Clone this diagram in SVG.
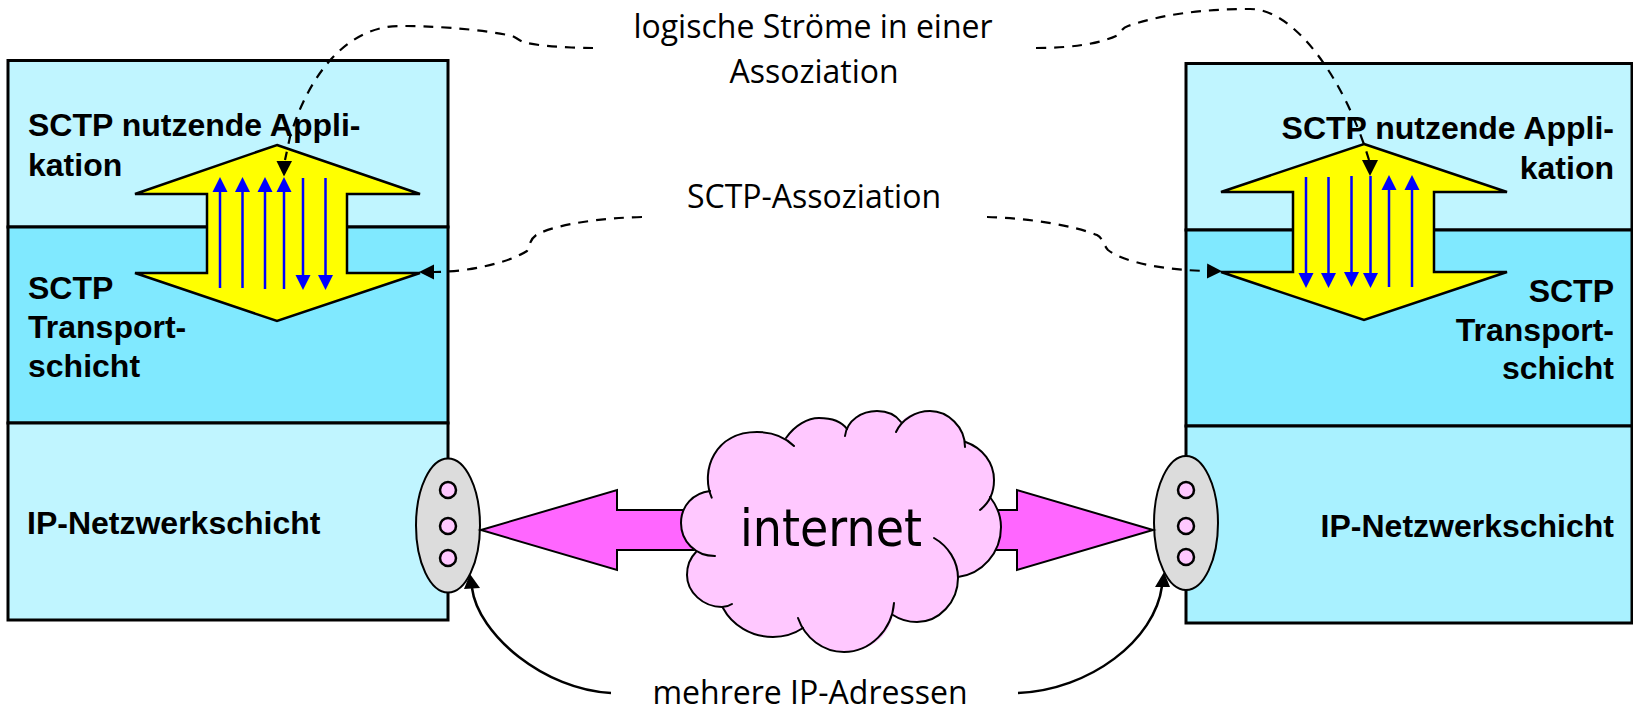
<svg xmlns="http://www.w3.org/2000/svg" width="1633" height="707" viewBox="0 0 1633 707">
<style>
.box{stroke:#000;stroke-width:3}
.lab{font-family:"Liberation Sans",Arial,sans-serif;font-weight:bold;font-size:32px;fill:#000}
.note{font-family:"Open Sans","Noto Sans",sans-serif;font-size:32px;fill:#000;text-anchor:middle}
.end{text-anchor:end}
.ya{fill:#ff0;stroke:#000;stroke-width:2.5;stroke-linejoin:miter}
.bl{stroke:#00f;stroke-width:2.5;fill:none;marker-end:url(#bh)}
.pa{fill:#f6f;stroke:#000;stroke-width:2}
.el{fill:#dcdcdc;stroke:#000;stroke-width:2}
.dot{fill:#ffc8ff;stroke:#000;stroke-width:2.5}
.cl{fill:none;stroke:#000;stroke-width:2;stroke-linecap:round}
.da{fill:none;stroke:#000;stroke-width:2.2;stroke-dasharray:10 8}
.ah{marker-end:url(#kh)}
.so{fill:none;stroke:#000;stroke-width:2.5}
</style>
<defs>
<marker id="bh" markerUnits="userSpaceOnUse" markerWidth="16" markerHeight="16" refX="0" refY="8" orient="auto"><path d="M0 0.5L15 8L0 15.5Z" fill="#00f"/></marker>
<marker id="kh" markerUnits="userSpaceOnUse" markerWidth="16" markerHeight="16" refX="0" refY="8" orient="auto"><path d="M0 0.5L15 8L0 15.5Z" fill="#000"/></marker>
</defs>
<rect width="1633" height="707" fill="#fff"/>

<g id="left-stack">
<rect class="box" x="8" y="60.500" width="440" height="166.500" fill="#c0f5ff"/>
<rect class="box" x="8" y="227" width="440" height="196" fill="#80e9ff"/>
<rect class="box" x="8" y="423" width="440" height="197" fill="#c0f5ff"/>
<text class="lab" x="28" y="136">SCTP nutzende Appli-</text>
<text class="lab" x="28" y="176">kation</text>
<text class="lab" x="28" y="299">SCTP</text>
<text class="lab" x="28" y="338">Transport-</text>
<text class="lab" x="28" y="377">schicht</text>
<text class="lab" x="27" y="534">IP-Netzwerkschicht</text>
</g>

<g id="right-stack">
<rect class="box" x="1186" y="63.500" width="446" height="166.500" fill="#c0f5ff"/>
<rect class="box" x="1186" y="230" width="446" height="196" fill="#80e9ff"/>
<rect class="box" x="1186" y="426" width="446" height="197" fill="#a9f1ff"/>
<text class="lab end" x="1614" y="139">SCTP nutzende Appli-</text>
<text class="lab end" x="1614" y="179">kation</text>
<text class="lab end" x="1614" y="302">SCTP</text>
<text class="lab end" x="1614" y="341">Transport-</text>
<text class="lab end" x="1614" y="379">schicht</text>
<text class="lab end" x="1614" y="537">IP-Netzwerkschicht</text>
</g>

<g id="left-association">
<polygon class="ya" points="277,145 420,194 347,194 347,273 420,273 277,321 135,273 207,273 207,194 135,194"/>
<line class="bl" x1="220" y1="288" x2="220" y2="192"/>
<line class="bl" x1="242.500" y1="288" x2="242.500" y2="192"/>
<line class="bl" x1="265" y1="289" x2="265" y2="192"/>
<line class="bl" x1="284" y1="289" x2="284" y2="192"/>
<line class="bl" x1="303" y1="178" x2="303" y2="275"/>
<line class="bl" x1="325.500" y1="178" x2="325.500" y2="275"/>
</g>

<g id="right-association">
<polygon class="ya" points="1364,144 1507,192 1434,192 1434,272 1507,272 1364,320 1221,272 1293,272 1293,192 1221,192"/>
<line class="bl" x1="1306" y1="177" x2="1306" y2="273"/>
<line class="bl" x1="1328.500" y1="177" x2="1328.500" y2="273"/>
<line class="bl" x1="1351.500" y1="176" x2="1351.500" y2="272"/>
<line class="bl" x1="1370.500" y1="176" x2="1370.500" y2="273"/>
<line class="bl" x1="1389" y1="287" x2="1389" y2="190"/>
<line class="bl" x1="1412" y1="287" x2="1412" y2="190"/>
</g>

<g id="left-interface">
<ellipse class="el" cx="448" cy="525.500" rx="32" ry="67"/>
<circle class="dot" cx="448" cy="490" r="8"/>
<circle class="dot" cx="448" cy="526" r="8"/>
<circle class="dot" cx="448" cy="558" r="8"/>
</g>
<g id="right-interface">
<ellipse class="el" cx="1186" cy="523" rx="32" ry="67"/>
<circle class="dot" cx="1186" cy="490" r="8"/>
<circle class="dot" cx="1186" cy="526" r="8"/>
<circle class="dot" cx="1186" cy="557" r="8"/>
</g>

<g id="internet">
<polygon class="pa" points="481,530 617,490 617,510 720,510 720,550 617,550 617,570"/>
<polygon class="pa" points="1153,530 1017,490 1017,510 960,510 960,550 1017,550 1017,570"/>
<path fill="#ffc8ff" d="M696 552C686 543 681 534 681 523C681 506 693 493 710 491C700 470 715 432 757 432C767 432 778 435 786 438C795 425 808 418 819 418C830 418 840 422 847 429C850 419 862 411 877 411C887 411 896 415 901 422C907 415 916 411 930 411C948 411 963 426 965 442C983 448 994 463 994 480C994 486 993 491 990 497C997 506 1001 516 1001 527C1001 553 982 574 958 577C955 602 939 622 917 622C908 622 899 619 893 615C888 637 870 652 844 652C828 652 812 642 803 628C794 634 784 637 773 637C751 637 732 625 723 608C703 607 687 592 687 575C687 566 690 558 696 552Z"/>
<g class="cl">
<path d="M715 556C695 556 681 541 681 523C681 506 693 493 710 491"/>
<path d="M711.700 497.700C700 470 715 432 757 432C772 432 785 437 794 446"/>
<path d="M786 438C795 425 808 418 819 418C832 418 842 422 847 429"/>
<path d="M845 436C847 420 862 411 877 411C887 411 896 415 901 422"/>
<path d="M896 432C902 419 916 411 930 411C948 411 965 427 965 447"/>
<path d="M965 441.700C983 448 994 463 994 480C994 492 989 503 980 510"/>
<path d="M990 497C997 506 1001 516 1001 527C1001 553 982 574 958 577"/>
<path d="M934 538C948 546 958 561 958 578C958 602 939 622 917 622C908 622 899 619 893 615"/>
<path d="M894 603C892 630 870 652 844 652C823 652 805 638 798 618"/>
<path d="M803 628C794 634 784 637 773 637C751 637 732 625 723 608"/>
<path d="M732 604C729 606 725 607 722 607C703 607 687 592 687 575C687 566 690 558 696 552"/>
</g>
<text x="740" y="546" font-family="'DejaVu Sans',sans-serif" font-size="52" textLength="182" lengthAdjust="spacingAndGlyphs">internet</text>
</g>

<g id="labels">
<text class="note" x="813" y="38">logische Ströme in einer</text>
<text class="note" x="814" y="83">Assoziation</text>
<text class="note" x="814" y="208">SCTP-Assoziation</text>
<text class="note" x="810" y="704">mehrere IP-Adressen</text>
</g>

<g id="connectors">
<path class="da" d="M593 48C570 48 540 46 527 43C518 41 516 36 508 35C470 28 430 26 400 26C350 26 310 70 290 137L285 160"/>
<polygon points="276.500,161 292,161 284,176.500"/>
<path class="da" d="M1036 48C1070 48 1100 44 1118 35C1122 31 1122 28 1128 26C1160 15 1200 9 1250 9C1295 9 1345 80 1369 160"/>
<polygon points="1362,160 1378,160 1370,176"/>
<path class="da ah" d="M642 217C600 218 560 224 540 233C530 237 530 245 527 251C510 262 470 272 434 272"/>
<path class="da ah" d="M987 217C1030 218 1075 226 1097 235C1103 238 1104 246 1108 250C1125 263 1165 270 1207 271"/>
<path class="so" d="M611 693C545 690 478 635 472 588"/>
<polygon points="470,574 464,589 480,588"/>
<path class="so" d="M1018 693C1090 690 1155 640 1162 586"/>
<polygon points="1164,572 1155,587 1170,587"/>
</g>
</svg>
